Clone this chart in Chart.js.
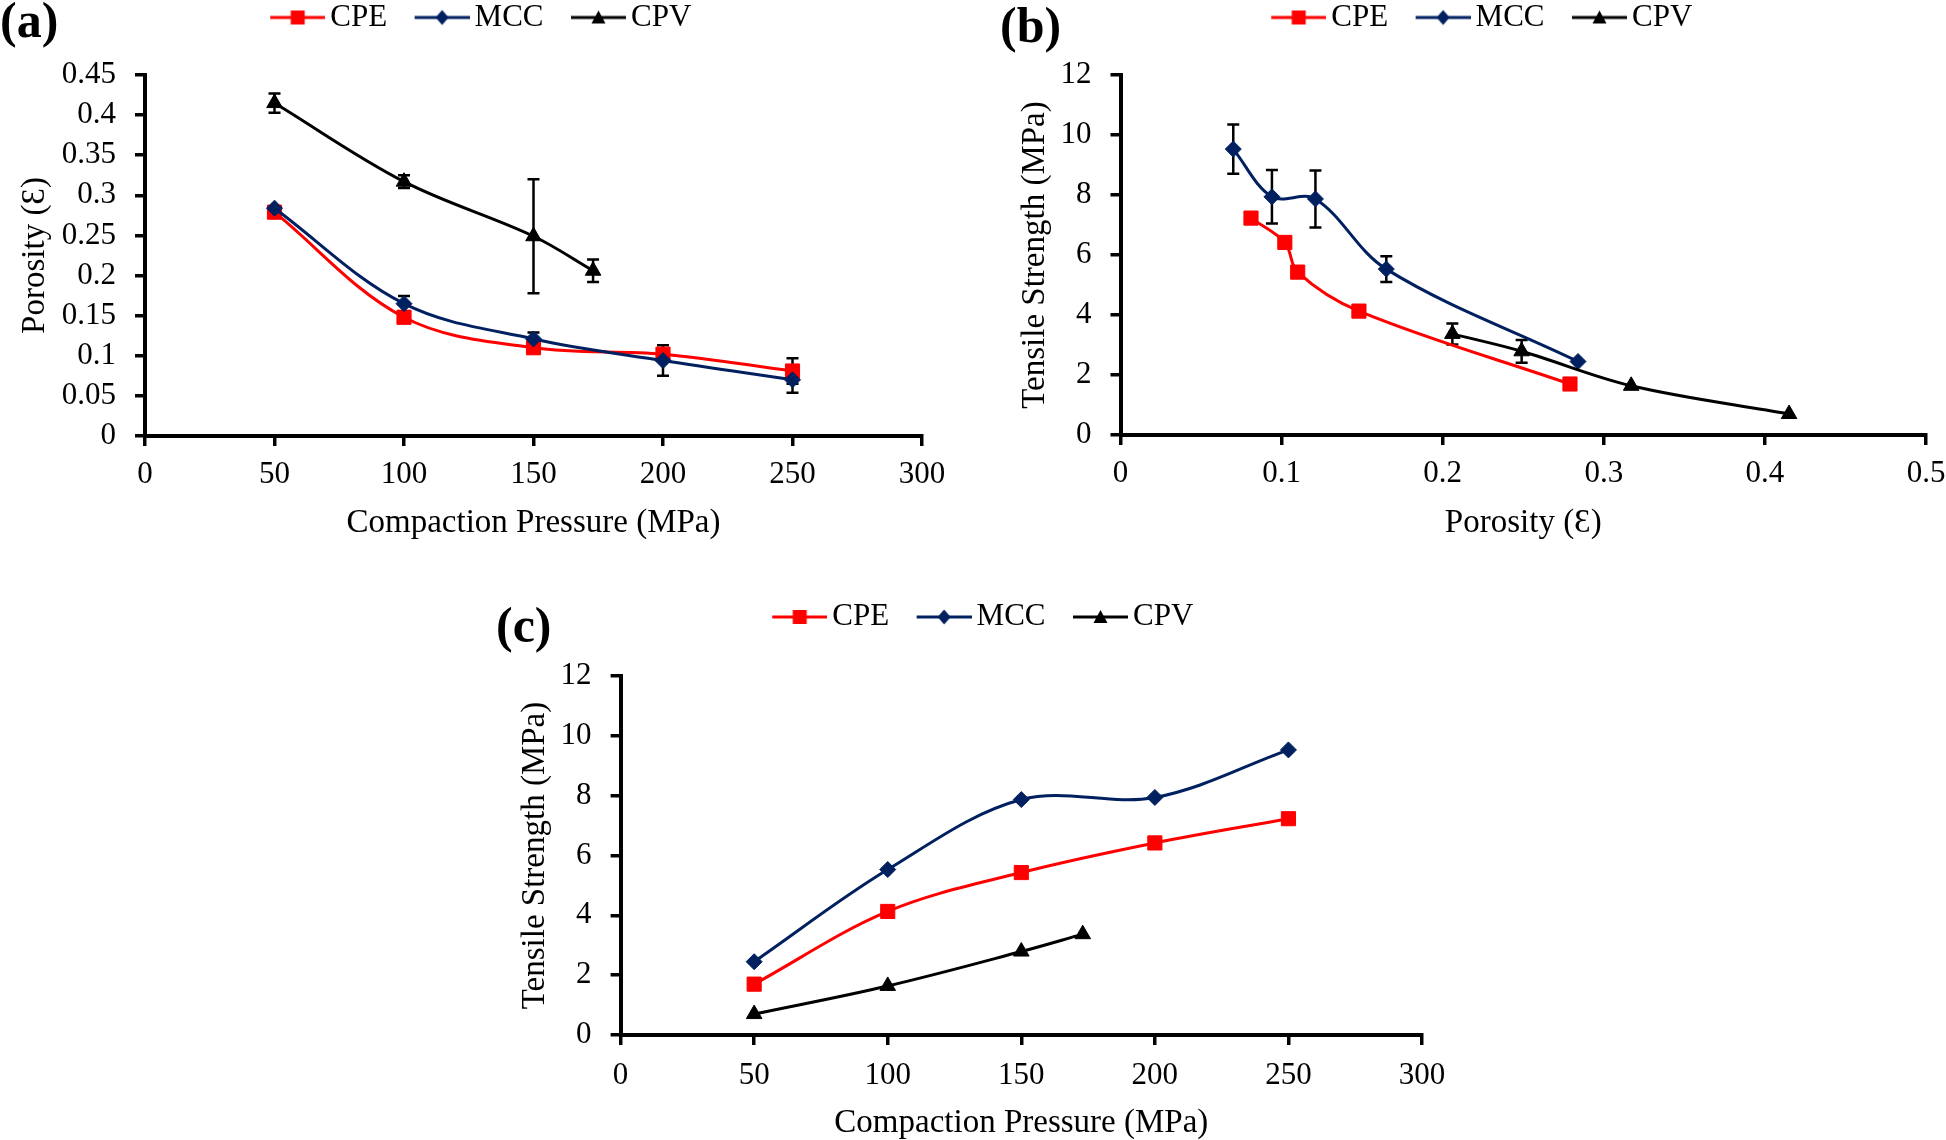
<!DOCTYPE html>
<html lang="en">
<head>
<meta charset="UTF-8">
<title>Porosity and tensile strength vs compaction pressure</title>
<script src="https://cdn.jsdelivr.net/npm/chart.js"></script>
<style>
    body {
        margin: 0;
        width: 1946px;
        height: 1140px;
        background: #fff;
        overflow: hidden;
        position: relative;
        font-family: 'Liberation Serif', 'Times New Roman', serif;
    }
    .panel { position: absolute; }
    .tag {
        position: absolute;
        font-weight: bold;
        font-size: 50px;
        line-height: 1;
        color: #000;
    }
</style>
</head>
<body>
<div class="tag" style="left:0;top:-5px">(a)</div>
<div class="tag" style="left:1000px;top:0">(b)</div>
<div class="tag" style="left:496px;top:600px">(c)</div>

<div class="panel" style="left:0;top:0"><canvas id="chartA" width="960" height="560"></canvas></div>
<div class="panel" style="left:980px;top:0"><canvas id="chartB" width="966" height="560"></canvas></div>
<div class="panel" style="left:480px;top:585px"><canvas id="chartC" width="990" height="555"></canvas></div>

<script>
// ---- data ----
const pressure = [50, 100, 150, 200, 250];
const cpvPressure = [50, 100, 150, 173];

const cpePorosity = [0.279, 0.148, 0.110, 0.102, 0.081];
const mccPorosity = [0.284, 0.165, 0.121, 0.094, 0.070];
const cpvPorosity = [0.415, 0.317, 0.249, 0.206];

const cpePorosityErr = [0, 0, 0, 0, 0.016];
const mccPorosityErr = [0, 0.0095, 0.008, 0.019, 0.016];
const cpvPorosityErr = [0.012, 0.008, 0.071, 0.014];

const cpeTensile = [1.70, 4.13, 5.43, 6.42, 7.23];
const mccTensile = [2.45, 5.53, 7.87, 7.94, 9.53];
const cpvTensile = [0.70, 1.64, 2.79, 3.37];

const cpeTensileErr = [0, 0, 0, 0, 0];
const mccTensileErr = [0, 0.43, 0.95, 0.89, 0.82];
const cpvTensileErr = [0, 0, 0.38, 0.35];

const seriesNames = ['CPE', 'MCC', 'CPV'];

// ---- styling ----
const FONT = "'Liberation Serif', 'Times New Roman', serif";
const COLORS = ['#ff0000', '#002060', '#000000'];
const SHAPES = ['rect', 'rectRot', 'triangle'];
const RADII = [10, 8, 9];

function makeIcon(color, shape) {
    const w = 91, h = 24, cx = w - 27.5, cy = 12;
    const c = document.createElement('canvas');
    c.width = w; c.height = h;
    const g = c.getContext('2d');
    g.strokeStyle = color;
    g.fillStyle = color;
    g.lineWidth = 3;
    g.beginPath();
    g.moveTo(w - 55, cy);
    g.lineTo(w, cy);
    g.stroke();
    g.beginPath();
    if (shape === 'rect') {
        g.rect(cx - 7, cy - 7, 14, 14);
    } else if (shape === 'rectRot') {
        g.moveTo(cx, cy - 7.5); g.lineTo(cx + 6.5, cy); g.lineTo(cx, cy + 7.5); g.lineTo(cx - 6.5, cy);
        g.closePath();
    } else {
        g.moveTo(cx, cy - 7); g.lineTo(cx + 7, cy + 6); g.lineTo(cx - 7, cy + 6);
        g.closePath();
    }
    g.fill();
    return c;
}
const icons = COLORS.map((c, i) => makeIcon(c, SHAPES[i]));

function series(i, xs, ys) {
    return {
        label: seriesNames[i],
        data: xs.map((x, k) => ({ x: x, y: ys[k] })),
        showLine: true,
        borderColor: COLORS[i],
        backgroundColor: COLORS[i],
        borderWidth: 3,
        tension: 0.35,
        pointStyle: SHAPES[i],
        pointRadius: RADII[i],
        pointBorderWidth: 1,
        pointBorderColor: COLORS[i],
        order: 3 - i
    };
}

// fixed legend block height so the plot top lands where it should
function legendHeight(h) {
    return {
        id: 'legendHeight',
        beforeInit(chart) {
            const fit = chart.legend.fit;
            chart.legend.fit = function () {
                fit.call(this);
                this.height = h;
            };
        }
    };
}

function errorBars(errs) {
    return {
        id: 'errorBars',
        beforeDatasetsDraw(chart) {
            const { ctx, scales: { x, y } } = chart;
            ctx.save();
            ctx.strokeStyle = '#000';
            ctx.lineWidth = 2.5;
            chart.data.datasets.forEach((ds, i) => {
                const e = errs[i];
                if (!e) return;
                ds.data.forEach((p, k) => {
                    if (!e[k]) return;
                    const px = x.getPixelForValue(p.x);
                    const top = y.getPixelForValue(p.y + e[k]);
                    const bot = y.getPixelForValue(p.y - e[k]);
                    ctx.beginPath();
                    ctx.moveTo(px, top); ctx.lineTo(px, bot);
                    ctx.moveTo(px - 6, top); ctx.lineTo(px + 6, top);
                    ctx.moveTo(px - 6, bot); ctx.lineTo(px + 6, bot);
                    ctx.stroke();
                });
            });
            ctx.restore();
        }
    };
}

function axis(o) {
    return {
        type: 'linear',
        min: o.min,
        max: o.max,
        ticks: {
            stepSize: o.step,
            autoSkip: false,
            maxRotation: 0,
            color: '#000',
            padding: o.tickPad,
            font: { family: FONT, size: 31 },
            callback: v => String(+v.toFixed(o.digits))
        },
        grid: {
            display: true,
            drawOnChartArea: false,
            drawTicks: true,
            tickLength: 10,
            color: '#000',
            lineWidth: 3.5
        },
        border: { display: true, color: '#000', width: 4 },
        title: {
            display: true,
            text: o.title,
            color: '#000',
            font: { family: FONT, size: 33, lineHeight: 1 },
            padding: o.titlePad
        },
        afterFit(s) {
            if (o.width) s.width = o.width;
            if (o.height) {
                s.height = o.height;
                s.paddingRight = 0;
                s.paddingLeft = 0;
            }
        }
    };
}

function build(id, cfg) {
    return new Chart(document.getElementById(id), {
        type: 'scatter',
        data: { datasets: cfg.datasets },
        options: {
            responsive: false,
            animation: false,
            events: [],
            layout: { padding: cfg.padding },
            plugins: {
                tooltip: { enabled: false },
                legend: {
                    position: 'top',
                    labels: {
                        usePointStyle: true,
                        pointStyleWidth: 70,
                        padding: 2,
                        color: '#000',
                        font: { family: FONT, size: 31 },
                        generateLabels: chart => chart.data.datasets.map((ds, i) => ({
                            text: ds.label,
                            pointStyle: icons[i],
                            fillStyle: COLORS[i],
                            strokeStyle: COLORS[i],
                            lineWidth: 0,
                            hidden: false,
                            datasetIndex: i
                        }))
                    }
                }
            },
            scales: { x: axis(cfg.x), y: axis(cfg.y) }
        },
        plugins: [legendHeight(cfg.legendH), errorBars(cfg.errors)]
    });
}

// (a) porosity vs compaction pressure
build('chartA', {
    datasets: [
        series(0, pressure, cpePorosity),
        series(1, pressure, mccPorosity),
        series(2, cpvPressure, cpvPorosity)
    ],
    errors: [cpePorosityErr, mccPorosityErr, cpvPorosityErr],
    padding: { left: 14, right: 38, top: 0, bottom: 0 },
    legendH: 75,
    x: { min: 0, max: 300, step: 50, digits: 0, tickPad: 10, height: 124,
         title: 'Compaction Pressure (MPa)', titlePad: { top: 0, bottom: 20.5 } },
    y: { min: 0, max: 0.45, step: 0.05, digits: 2, tickPad: 19, width: 131,
         title: 'Porosity (Ɛ)', titlePad: { top: 4.5, bottom: 0 } }
});

// (b) tensile strength vs porosity
build('chartB', {
    datasets: [
        series(0, cpePorosity, cpeTensile),
        series(1, mccPorosity, mccTensile),
        series(2, cpvPorosity, cpvTensile)
    ],
    errors: [cpeTensileErr, mccTensileErr, cpvTensileErr],
    padding: { left: 32, right: 20, top: 0, bottom: 0 },
    legendH: 75,
    x: { min: 0, max: 0.5, step: 0.1, digits: 1, tickPad: 10, height: 125,
         title: 'Porosity (Ɛ)', titlePad: { top: 0, bottom: 20.5 } },
    y: { min: 0, max: 12, step: 2, digits: 0, tickPad: 19, width: 108.5,
         title: 'Tensile Strength (MPa)', titlePad: { top: 7, bottom: 0 } }
});

// (c) tensile strength vs compaction pressure
build('chartC', {
    datasets: [
        series(0, pressure, cpeTensile),
        series(1, pressure, mccTensile),
        series(2, cpvPressure, cpvTensile)
    ],
    errors: [],
    padding: { left: 38, right: 48, top: 14.5, bottom: 0 },
    legendH: 76.5,
    x: { min: 0, max: 300, step: 50, digits: 0, tickPad: 12, height: 105,
         title: 'Compaction Pressure (MPa)', titlePad: { top: 0, bottom: 0 } },
    y: { min: 0, max: 12, step: 2, digits: 0, tickPad: 19, width: 102.6,
         title: 'Tensile Strength (MPa)', titlePad: { top: 0.5, bottom: 0 } }
});
</script>
</body>
</html>
